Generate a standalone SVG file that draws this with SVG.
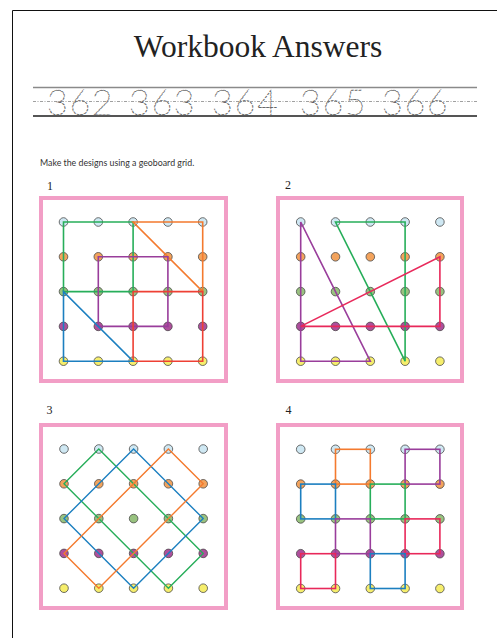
<svg xmlns="http://www.w3.org/2000/svg" xmlns:xlink="http://www.w3.org/1999/xlink" width="497" height="638" viewBox="0 0 497 638">
<style>
.frame{fill:none;stroke:#f29ec6;stroke-width:4}
.dot{stroke:#4a4a4a;stroke-width:0.8}
.r0{fill:#cfe8f3}.r1{fill:#f3a35c}.r2{fill:#98c27f}.r3{fill:#ae4f9c}.r4{fill:#f6ee6c}
.ln{fill:none;stroke-width:1.6;stroke-linejoin:miter}
.thin{stroke-width:1.4}
.green{stroke:#27ae5a}.orange{stroke:#f47a2e}.purple{stroke:#993d9b}.red{stroke:#ee4034}.blue{stroke:#1c7fc0}.crimson{stroke:#e8285a}
.lbl{font-family:"Liberation Serif",serif;font-size:12px;fill:#222}
.trace{font-family:Lato,Inter,sans-serif;font-weight:100;font-size:36px;fill:none;stroke:#666;stroke-width:0.6;stroke-dasharray:2.5 1.3;letter-spacing:1.5px}
</style>
<defs>
<g id="dots">
<circle class="dot r0" cx="0" cy="0" r="4.3"/><circle class="dot r0" cx="34.8" cy="0" r="4.3"/><circle class="dot r0" cx="69.6" cy="0" r="4.3"/><circle class="dot r0" cx="104.4" cy="0" r="4.3"/><circle class="dot r0" cx="139.2" cy="0" r="4.3"/>
<circle class="dot r1" cx="0" cy="34.8" r="4.3"/><circle class="dot r1" cx="34.8" cy="34.8" r="4.3"/><circle class="dot r1" cx="69.6" cy="34.8" r="4.3"/><circle class="dot r1" cx="104.4" cy="34.8" r="4.3"/><circle class="dot r1" cx="139.2" cy="34.8" r="4.3"/>
<circle class="dot r2" cx="0" cy="69.6" r="4.3"/><circle class="dot r2" cx="34.8" cy="69.6" r="4.3"/><circle class="dot r2" cx="69.6" cy="69.6" r="4.3"/><circle class="dot r2" cx="104.4" cy="69.6" r="4.3"/><circle class="dot r2" cx="139.2" cy="69.6" r="4.3"/>
<circle class="dot r3" cx="0" cy="104.4" r="4.3"/><circle class="dot r3" cx="34.8" cy="104.4" r="4.3"/><circle class="dot r3" cx="69.6" cy="104.4" r="4.3"/><circle class="dot r3" cx="104.4" cy="104.4" r="4.3"/><circle class="dot r3" cx="139.2" cy="104.4" r="4.3"/>
<circle class="dot r4" cx="0" cy="139.2" r="4.3"/><circle class="dot r4" cx="34.8" cy="139.2" r="4.3"/><circle class="dot r4" cx="69.6" cy="139.2" r="4.3"/><circle class="dot r4" cx="104.4" cy="139.2" r="4.3"/><circle class="dot r4" cx="139.2" cy="139.2" r="4.3"/>
</g>
</defs>
<rect x="0" y="0" width="497" height="638" fill="#ffffff"/>
<g id="page-border" fill="none" stroke="#111" stroke-width="1">
<line x1="12.5" y1="10.5" x2="497" y2="10.5"/>
<line x1="12.5" y1="10.5" x2="12.5" y2="638"/>
</g>
<text id="title" x="258" y="57" text-anchor="middle" font-family="Liberation Serif, serif" font-size="31.5" fill="#222">Workbook Answers</text>
<g id="tracing">
<line x1="33" y1="87.5" x2="477" y2="87.5" stroke="#8a8a8a" stroke-width="1.5"/>
<line x1="33" y1="101.5" x2="477" y2="101.5" stroke="#777" stroke-width="0.7" stroke-dasharray="3 1.5 1 1.5"/>
<line x1="33" y1="116" x2="477" y2="116" stroke="#555" stroke-width="2"/>
<text class="trace" x="47" y="115">362</text>
<text class="trace" x="129" y="115">363</text>
<text class="trace" x="212" y="115">364</text>
<text class="trace" x="300" y="115">365</text>
<text class="trace" x="382" y="115">366</text>
</g>
<text id="instructions" x="40" y="166" font-family="Lato, sans-serif" font-size="8.8" fill="#333">Make the designs using a geoboard grid.</text>

<g id="board1">
<text class="lbl" x="47" y="190">1</text>
<rect class="frame" x="41" y="198" width="185" height="183"/>
<g transform="translate(63.5,222)">
<use xlink:href="#dots"/>
<g id="board1-lines">
<path class="ln green" d="M0,0 H69.6 V69.6 H0 Z"/>
<path class="ln orange" d="M69.6,0 H139.2 V69.6 Z"/>
<path class="ln purple" d="M34.8,34.8 H104.4 V104.4 H34.8 Z"/>
<path class="ln red" d="M69.6,69.6 H139.2 V139.2 H69.6 Z"/>
<path class="ln blue" d="M0,69.6 V139.2 H69.6 Z"/>
</g>
</g>
</g>

<g id="board2">
<text class="lbl" x="285" y="189">2</text>
<rect class="frame" x="278" y="198" width="184" height="183"/>
<g transform="translate(300.7,222)">
<use xlink:href="#dots"/>
<g id="board2-lines">
<path class="ln purple" d="M0,0 V139.2 H69.6 Z"/>
<path class="ln green" d="M34.8,0 H104.4 V139.2 Z"/>
<path class="ln crimson" d="M0,104.4 H139.2 V34.8 Z"/>
</g>
</g>
</g>

<g id="board3">
<text class="lbl" x="46.5" y="414">3</text>
<rect class="frame" x="41" y="425" width="185" height="183"/>
<g transform="translate(64,449)">
<use xlink:href="#dots"/>
<g id="board3-lines">
<path class="ln thin green" d="M34.8,0 L139.2,104.4 L104.4,139.2 L0,34.8 Z"/>
<path class="ln thin blue" d="M69.6,0 L139.2,69.6 L69.6,139.2 L0,69.6 Z"/>
<path class="ln thin orange" d="M104.4,0 L139.2,34.8 L34.8,139.2 L0,104.4 Z"/>
</g>
</g>
</g>

<g id="board4">
<text class="lbl" x="285.5" y="414">4</text>
<rect class="frame" x="278" y="425" width="184" height="183"/>
<g transform="translate(300.7,449.3)">
<use xlink:href="#dots"/>
<g id="board4-lines">
<rect class="ln orange" x="34.8" y="0" width="34.8" height="34.8"/>
<rect class="ln purple" x="104.4" y="0" width="34.8" height="34.8"/>
<rect class="ln blue" x="0" y="34.8" width="34.8" height="34.8"/>
<rect class="ln green" x="69.6" y="34.8" width="34.8" height="34.8"/>
<rect class="ln purple" x="34.8" y="69.6" width="34.8" height="34.8"/>
<rect class="ln crimson" x="104.4" y="69.6" width="34.8" height="34.8"/>
<rect class="ln crimson" x="0" y="104.4" width="34.8" height="34.8"/>
<rect class="ln blue" x="69.6" y="104.4" width="34.8" height="34.8"/>
</g>
</g>
</g>
</svg>
